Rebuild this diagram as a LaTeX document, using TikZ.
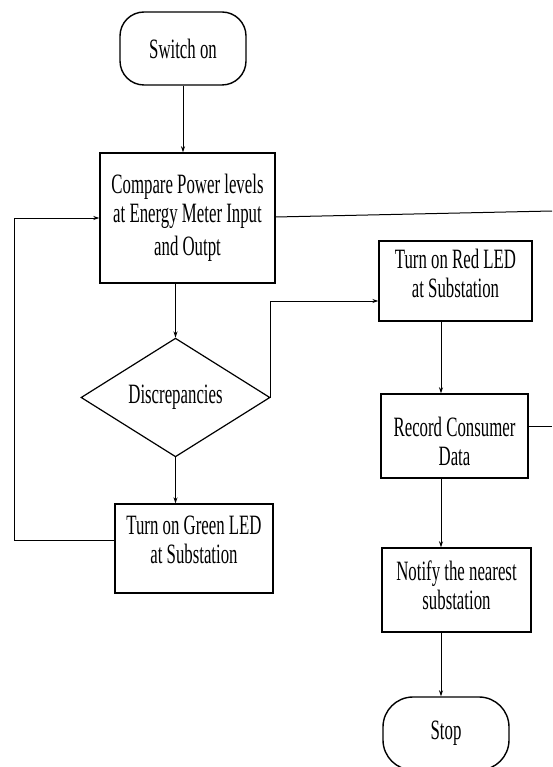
\documentclass[tikz,border=0pt]{standalone}
\usepackage{fontspec}
\setmainfont[FakeStretch=0.6]{Liberation Serif}
\usetikzlibrary{shapes.geometric, arrows.meta}

\begin{document}
\begin{tikzpicture}[x=1pt, y=-1pt,
    every node/.style={font=\fontsize{28}{29}\selectfont, align=center, inner sep=0pt},
    term/.style={draw, line width=1.4pt, rounded corners=24pt, minimum width=126pt, minimum height=73pt},
    procbox/.style={draw, line width=1.4pt, minimum width=#1},
    decision/.style={draw, line width=1.2pt, diamond, minimum width=189pt, minimum height=111pt},
    flow/.style={line width=1pt, -{Stealth[length=6pt, width=4pt]}},
    wire/.style={line width=1pt}]
    \useasboundingbox (0,0) rectangle (552,767);

    % Left column
    \node[term] (start) at (183,48.5) {Switch on};
    \node[procbox=175pt, minimum height=130pt] (compare) at (187.5,218)
        {Compare Power levels\\at Energy Meter Input\\[4pt]and Outpt\\[-23pt]~};
    \node[decision] (disc) at (175.5,397.5) {Discrepancies};
    \node[procbox=158pt, minimum height=89pt] (green) at (194,548.5)
        {Turn on Green LED\\at Substation\\[-12pt]~};

    % Right column
    \node[procbox=153pt, minimum height=80pt] (red) at (455.5,281)
        {Turn on Red LED\\at Substation\\[-14pt]~};
    \node[procbox=147pt, minimum height=84pt] (record) at (454.5,436)
        {~\\[1pt]Record Consumer\\Data};
    \node[procbox=149pt, minimum height=84pt] (notify) at (456.5,590)
        {Notify the nearest\\substation\\[-19pt]~};
    \node[term, rounded corners=30pt] (stop) at (446,733.5) {Stop};

    \coordinate (col) at (441,0);
    \coordinate (edge1) at (552,211);
    \coordinate (edge2) at (552,426);

    % Connectors
    \draw[flow] (start.south -| 183,0) -- (compare.north -| 183,0);
    \draw[flow] (compare.south -| disc.north) -- (disc.north);
    \draw[flow] (disc.south) -- (disc.south |- green.north);
    \draw[flow] ([yshift=8.5pt]green.west) -- +(-100,0) |- (compare.west);
    \draw[flow] (disc.east) |- ([yshift=-20pt]red.west);
    \draw[flow] (red.south -| col) -- (record.north -| col);
    \draw[flow] (record.south -| col) -- (notify.north -| col);
    \draw[flow] (notify.south -| col) -- (stop.north -| col);
    \draw[wire] ([yshift=1pt]compare.east) -- (edge1);
    \draw[wire] ([yshift=10pt]record.east) -- (edge2);
\end{tikzpicture}
\end{document}
